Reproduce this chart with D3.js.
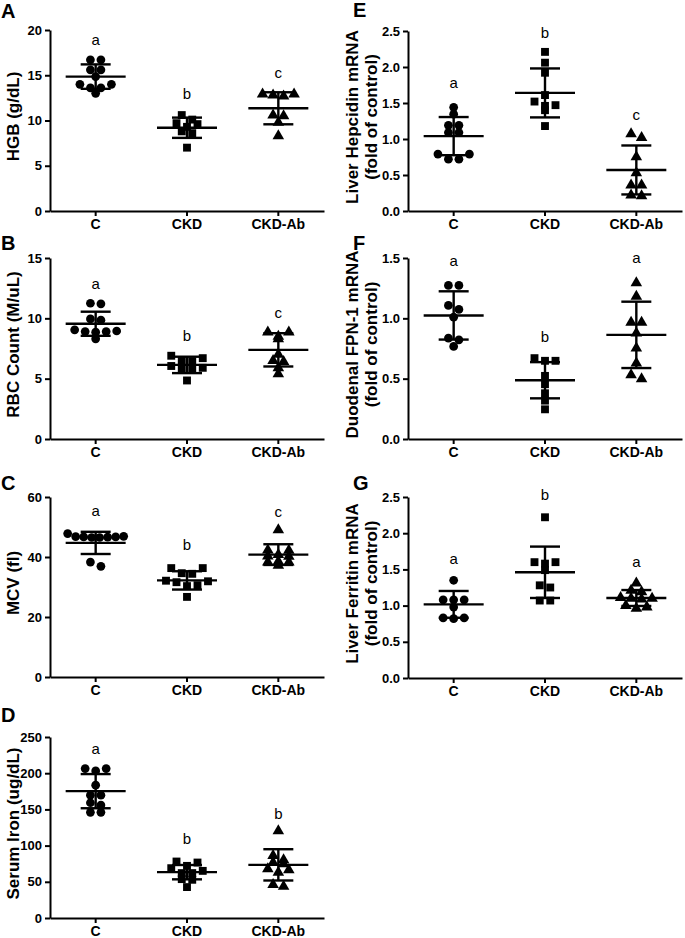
<!DOCTYPE html>
<html><head><meta charset="utf-8">
<script src="https://cdn.jsdelivr.net/npm/d3@7"></script>
<style>
body{margin:0;background:#fff}
svg{display:block}
text{font-family:"Liberation Sans",Arial,Helvetica,sans-serif;fill:#000}
</style>
</head><body>
<svg id="chart" width="685" height="938"></svg>
<script>
// ---------- DATA ----------
const groups = ["C", "CKD", "CKD-Ab"];

// A: HGB (g/dL)
const hgbC   = [16.7, 16.7, 15.6, 15.6, 14.85, 14.0, 14.0, 13.6, 13.6, 13.0];
const hgbCKD = [10.6, 10.1, 9.7, 9.6, 9.3, 8.8, 8.6, 7.0];
const hgbAb  = [12.9, 12.9, 12.8, 12.7, 10.6, 10.5, 9.8, 8.3];
const hgbMean = [14.85, 9.2, 11.35];
const hgbSD   = [1.35, 1.12, 1.77];
const hgbSig  = ["a", "b", "c"];
const hgbSigY = [18.8, 12.9, 15.2];
const hgbTicks = [0, 5, 10, 15, 20];

// B: RBC Count (M/uL)
const rbcC   = [11.25, 11.2, 9.95, 9.85, 9.05, 8.95, 8.9, 8.9, 8.85, 8.3];
const rbcCKD = [6.9, 6.7, 6.5, 6.45, 6.05, 5.9, 5.85, 5.8, 4.85];
const rbcAb  = [8.85, 8.85, 8.5, 8.3, 7.0, 6.5, 6.4, 5.9, 5.4];
const rbcMean = [9.55, 6.14, 7.39];
const rbcSD   = [1.0, 0.68, 1.38];
const rbcSig  = ["a", "b", "c"];
const rbcSigY = [12.8, 8.5, 10.4];
const rbcTicks = [0, 5, 10, 15];

// C: MCV (fl)
const mcvC   = [47.8, 46.9, 46.8, 46.7, 46.7, 46.6, 46.5, 46.5, 38.3, 36.9];
const mcvCKD = [36.3, 36.3, 34.6, 34.4, 32.1, 31.9, 31.6, 30.6, 30.3, 26.7];
const mcvAb  = [49.0, 42.3, 42.2, 40.8, 40.3, 40.2, 38.5, 38.3, 38.3, 37.2];
const mcvMean = [44.7, 32.2, 40.8];
const mcvSD   = [3.7, 3.05, 3.45];
const mcvSig  = ["a", "b", "c"];
const mcvSigY = [55.2, 43.7, 54.8];
const mcvTicks = [0, 20, 40, 60];

// D: Serum Iron (ug/dL)
const ironC   = [206.4, 206.4, 203.2, 183.5, 169.7, 169.7, 159.2, 156, 145.9, 145.9];
const ironCKD = [78, 76.6, 72, 68.8, 65.1, 62, 62, 53.7, 52.8, 42.7];
const ironAb  = [120.2, 86.2, 80.3, 76.6, 74.8, 67.9, 66.5, 62.8, 45.9, 43.6];
const ironMean = [175.2, 63.3, 73.4];
const ironSD   = [23.6, 9.9, 21.6];
const ironSig  = ["a", "b", "b"];
const ironSigY = [233, 107.8, 143.6];
const ironTicks = [0, 50, 100, 150, 200, 250];

// E: Liver Hepcidin mRNA (fold of control)
const hepC   = [1.44, 1.345, 1.19, 1.19, 1.09, 1.09, 0.79, 0.79, 0.72, 0.72];
const hepCKD = [2.21, 2.06, 1.92, 1.61, 1.52, 1.47, 1.46, 1.40, 1.18];
const hepAb  = [1.07, 1.02, 0.75, 0.53, 0.36, 0.36, 0.22, 0.21];
const hepMean = [1.04, 1.64, 0.57];
const hepSD   = [0.265, 0.34, 0.34];
const hepSig  = ["a", "b", "c"];
const hepSigY = [1.77, 2.46, 1.33];
const hepTicks = [0, 0.5, 1.0, 1.5, 2.0, 2.5];

// F: Duodenal FPN-1 mRNA (fold of control)
const fpnC   = [1.273, 1.273, 1.107, 1.074, 1.01, 0.836, 0.822, 0.767];
const fpnCKD = [0.67, 0.648, 0.648, 0.523, 0.454, 0.379, 0.318, 0.246];
const fpnAb  = [1.293, 1.182, 0.966, 0.966, 0.877, 0.753, 0.628, 0.531, 0.498];
const fpnMean = [1.024, 0.487, 0.863];
const fpnSD   = [0.2, 0.15, 0.275];
const fpnSig  = ["a", "b", "a"];
const fpnSigY = [1.467, 0.84, 1.495];
const fpnTicks = [0, 0.5, 1.0, 1.5];

// G: Liver Ferritin mRNA (fold of control)
const ferC   = [1.35, 1.08, 1.08, 1.08, 0.98, 0.83, 0.83, 0.82];
const ferCKD = [2.22, 1.6, 1.6, 1.58, 1.49, 1.28, 1.25, 1.07, 1.07];
const ferAb  = [1.31, 1.21, 1.19, 1.11, 1.10, 1.10, 1.09, 1.0, 0.98, 0.96];
const ferMean = [1.017, 1.46, 1.105];
const ferSD   = [0.185, 0.355, 0.11];
const ferSig  = ["a", "b", "a"];
const ferSigY = [1.635, 2.52, 1.60];
const ferTicks = [0, 0.5, 1.0, 1.5, 2.0, 2.5];

// ---------- LAYOUT ----------
const L = {x0: 50, x1: 324, titleX: [13]};
const R = {x0: 408, x1: 682, titleX: [352, 371]};

const panels = [
  {id:"A", col:L, yTop:30,  yBot:211, labY:18,  title:["HGB (g/dL)"], ticks:hgbTicks, fmt:d3.format("d"),
   data:[hgbC,hgbCKD,hgbAb], mean:hgbMean, sd:hgbSD, sig:hgbSig, sigY:hgbSigY},
  {id:"B", col:L, yTop:258, yBot:439, labY:250, title:["RBC Count (M/uL)"], ticks:rbcTicks, fmt:d3.format("d"),
   data:[rbcC,rbcCKD,rbcAb], mean:rbcMean, sd:rbcSD, sig:rbcSig, sigY:rbcSigY},
  {id:"C", col:L, yTop:497, yBot:677, labY:490, title:["MCV (fl)"], ticks:mcvTicks, fmt:d3.format("d"),
   data:[mcvC,mcvCKD,mcvAb], mean:mcvMean, sd:mcvSD, sig:mcvSig, sigY:mcvSigY},
  {id:"D", col:L, yTop:737, yBot:918, labY:722, title:["Serum Iron (ug/dL)"], ticks:ironTicks, fmt:d3.format("d"),
   data:[ironC,ironCKD,ironAb], mean:ironMean, sd:ironSD, sig:ironSig, sigY:ironSigY},
  {id:"E", col:R, yTop:31,  yBot:211, labY:17,  title:["Liver Hepcidin mRNA","(fold of control)"], ticks:hepTicks, fmt:d3.format(".1f"),
   data:[hepC,hepCKD,hepAb], mean:hepMean, sd:hepSD, sig:hepSig, sigY:hepSigY},
  {id:"F", col:R, yTop:258, yBot:439, labY:250, title:["Duodenal FPN-1 mRNA","(fold of control)"], ticks:fpnTicks, fmt:d3.format(".1f"),
   data:[fpnC,fpnCKD,fpnAb], mean:fpnMean, sd:fpnSD, sig:fpnSig, sigY:fpnSigY},
  {id:"G", col:R, yTop:497, yBot:678, labY:490, title:["Liver Ferritin mRNA","(fold of control)"], ticks:ferTicks, fmt:d3.format(".1f"),
   data:[ferC,ferCKD,ferAb], mean:ferMean, sd:ferSD, sig:ferSig, sigY:ferSigY}
];

const symbolTypes = [d3.symbolCircle, d3.symbolSquare, d3.symbolTriangle];
const symbolSizes = [60, 62, 58];

const svg = d3.select("#chart");

// row-based column-scatter arrangement
function arrange(ys, h, w, maxW) {
  const idx = ys.map((y, i) => i).sort((a, b) => ys[a] - ys[b]);
  const out = new Array(ys.length).fill(0);
  let row = [];
  const flush = () => {
    const n = row.length;
    if (!n) return;
    const sp = n > 1 ? Math.min(w, maxW / (n - 1)) : 0;
    const slots = d3.range(n).map(k => (k - (n - 1) / 2) * sp);
    const ordered = [];
    let lo = 0, hi = n - 1, left = true;
    while (lo <= hi) {
      if (left) ordered.push(slots[lo++]); else ordered.push(slots[hi--]);
      left = !left;
    }
    row.forEach((i, k) => { out[i] = ordered[k]; });
    row = [];
  };
  let start = null;
  idx.forEach(i => {
    if (start === null || ys[i] - start >= h) { flush(); start = ys[i]; }
    row.push(i);
  });
  flush();
  return out;
}

panels.forEach(p => {
  const g = svg.append("g");
  const x = d3.scaleBand().domain(groups).range([p.col.x0, p.col.x1]).padding(0);
  const y = d3.scaleLinear().domain([p.ticks[0], p.ticks[p.ticks.length - 1]]).range([p.yBot, p.yTop]);

  const ya = g.append("g").attr("transform", `translate(${p.col.x0},0)`)
    .call(d3.axisLeft(y).tickValues(p.ticks).tickFormat(p.fmt).tickSize(5).tickSizeOuter(0).tickPadding(3));
  const xa = g.append("g").attr("transform", `translate(0,${p.yBot})`)
    .call(d3.axisBottom(x).tickSize(5).tickSizeOuter(0).tickPadding(3));
  [ya, xa].forEach(a => {
    a.select(".domain").attr("stroke", "#000").attr("stroke-width", 2);
    a.selectAll(".tick line").attr("stroke", "#000").attr("stroke-width", 2);
  });
  ya.selectAll(".tick text").attr("font-size", 13).attr("font-weight", "bold")
    .attr("font-family", "Liberation Sans, Arial, sans-serif");
  xa.selectAll(".tick text").attr("font-size", 14).attr("font-weight", "bold")
    .attr("font-family", "Liberation Sans, Arial, sans-serif");

  g.append("text").attr("x", p.col === L ? 1 : 353).attr("y", p.labY)
    .attr("font-size", 20).attr("font-weight", "bold").text(p.id);

  const cy = (p.yTop + p.yBot) / 2 - 4;
  p.title.forEach((t, k) => {
    g.append("text")
      .attr("transform", `translate(${p.col.titleX[k]},${cy}) rotate(-90)`)
      .attr("text-anchor", "middle").attr("dominant-baseline", "central")
      .attr("font-size", 17).attr("font-weight", "bold").text(t);
  });

  groups.forEach((grp, gi) => {
    const cx = x(grp) + x.bandwidth() / 2;
    const vals = p.data[gi];
    const ys = vals.map(v => y(v));
    const offs = arrange(ys, 6, 10.5, 56);
    const sym = d3.symbol().type(symbolTypes[gi]).size(symbolSizes[gi]);
    g.append("g").selectAll("path").data(vals).join("path")
      .attr("d", sym)
      .attr("transform", (v, i) => `translate(${cx + offs[i]},${ys[i]})`)
      .attr("fill", "#000");

    const m = p.mean[gi], s = p.sd[gi];
    const eg = g.append("g").attr("stroke", "#000").attr("stroke-width", 2.4).attr("fill", "none");
    eg.append("line").attr("x1", cx - 30).attr("x2", cx + 30).attr("y1", y(m)).attr("y2", y(m));
    eg.append("line").attr("x1", cx).attr("x2", cx).attr("y1", y(m + s)).attr("y2", y(m - s));
    eg.append("line").attr("x1", cx - 15).attr("x2", cx + 15).attr("y1", y(m + s)).attr("y2", y(m + s));
    eg.append("line").attr("x1", cx - 15).attr("x2", cx + 15).attr("y1", y(m - s)).attr("y2", y(m - s));

    g.append("text").attr("x", cx).attr("y", y(p.sigY[gi])).attr("dy", "0.3em")
      .attr("text-anchor", "middle").attr("font-size", 15).text(p.sig[gi]);
  });
});
</script>
</body></html>
